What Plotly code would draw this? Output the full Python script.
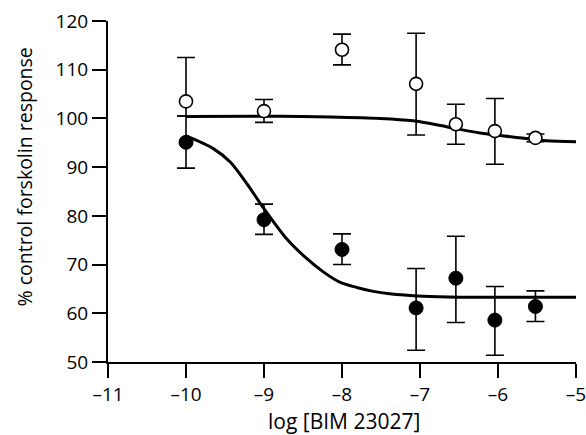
import plotly.graph_objects as go

# log [BIM 23027] concentrations of the measured points
log_conc = [-10.0, -9.0, -8.0, -7.05, -6.54, -6.04, -5.52]

# open circles: mean and error bars
open_mean = [103.5, 101.5, 114.1, 107.1, 98.8, 97.4, 96.0]
open_err_up = [9.0, 2.4, 3.2, 10.4, 4.1, 6.7, 0.8]
open_err_down = [3.0, 2.3, 3.1, 10.5, 4.1, 6.8, 0.8]

# filled circles: mean and error bars
filled_mean = [95.1, 79.2, 73.1, 61.1, 67.2, 58.6, 61.4]
filled_err_up = [5.4, 3.2, 3.2, 8.1, 8.6, 6.9, 3.2]
filled_err_down = [5.3, 3.0, 3.1, 8.7, 9.1, 7.2, 3.1]

# fitted concentration-response curves (sampled)
open_fit_x = [-10.0, -8.8, -8.15, -7.51, -7.09, -6.66, -6.23, -5.81, -5.38, -5.0]
open_fit_y = [100.4, 100.45, 100.3, 100.0, 99.5, 98.3, 97.0, 96.2, 95.4, 95.2]
filled_fit_x = [-10.0, -9.65, -9.43, -9.22, -9.01, -8.71, -8.45, -8.24, -8.03,
                -7.81, -7.60, -7.39, -6.96, -6.5, -5.0]
filled_fit_y = [96.4, 93.8, 91.0, 86.6, 81.7, 75.3, 71.2, 68.5, 66.4,
                65.3, 64.5, 64.0, 63.5, 63.3, 63.3]

x_ticks = [-11, -10, -9, -8, -7, -6, -5]
x_tick_text = ["\u201311", "\u201310", "\u20139", "\u20138", "\u20137", "\u20136", "\u20135"]
y_ticks = [50, 60, 70, 80, 90, 100, 110, 120]

FONT = "Open Sans, Noto Sans, sans-serif"

fig = go.Figure()

fig.add_trace(go.Scatter(
    x=open_fit_x, y=open_fit_y, mode="lines",
    line=dict(color="black", width=3, shape="spline", smoothing=0.8),
    hoverinfo="skip", showlegend=False,
))
fig.add_trace(go.Scatter(
    x=filled_fit_x, y=filled_fit_y, mode="lines",
    line=dict(color="black", width=3, shape="spline", smoothing=0.8),
    hoverinfo="skip", showlegend=False,
))

fig.add_trace(go.Scatter(
    x=log_conc, y=filled_mean, mode="markers",
    marker=dict(symbol="circle", size=14, color="black",
                line=dict(color="black", width=1)),
    error_y=dict(type="data", symmetric=False, array=filled_err_up,
                 arrayminus=filled_err_down, color="black",
                 thickness=1.6, width=9),
    showlegend=False,
))
fig.add_trace(go.Scatter(
    x=log_conc, y=open_mean, mode="markers",
    marker=dict(symbol="circle", size=13, color="white",
                line=dict(color="black", width=1.6)),
    error_y=dict(type="data", symmetric=False, array=open_err_up,
                 arrayminus=open_err_down, color="black",
                 thickness=1.6, width=9),
    showlegend=False,
))

fig.update_layout(
    width=586, height=435,
    margin=dict(l=108, r=10, t=21, b=73),
    paper_bgcolor="white", plot_bgcolor="white",
    font=dict(family=FONT, size=18, color="black"),
    annotations=[
        dict(text="log [BIM 23027]", xref="paper", yref="paper",
             x=0.505, y=0, xanchor="center", yanchor="middle", yshift=-59,
             showarrow=False, font=dict(family=FONT, size=21)),
        dict(text="% control forskolin response", xref="paper", yref="paper",
             x=0, y=0.541, xanchor="center", yanchor="middle", xshift=-83,
             textangle=-90, showarrow=False, font=dict(family=FONT, size=19.5)),
    ],
)
fig.update_xaxes(
    range=[-11, -5], tickvals=x_ticks, ticktext=x_tick_text,
    showgrid=False, zeroline=False, automargin=False,
    showline=True, linecolor="black", linewidth=2,
    ticks="outside", ticklen=14, tickwidth=2, tickcolor="black",
    tickfont=dict(family=FONT, size=19), ticklabeloverflow="allow",
)
fig.update_yaxes(
    range=[50, 120], tickvals=y_ticks,
    showgrid=False, zeroline=False, automargin=False,
    showline=True, linecolor="black", linewidth=2,
    ticks="outside", ticklen=14, tickwidth=2, tickcolor="black",
    tickfont=dict(family=FONT, size=19),
)

fig.write_html("out.html")
